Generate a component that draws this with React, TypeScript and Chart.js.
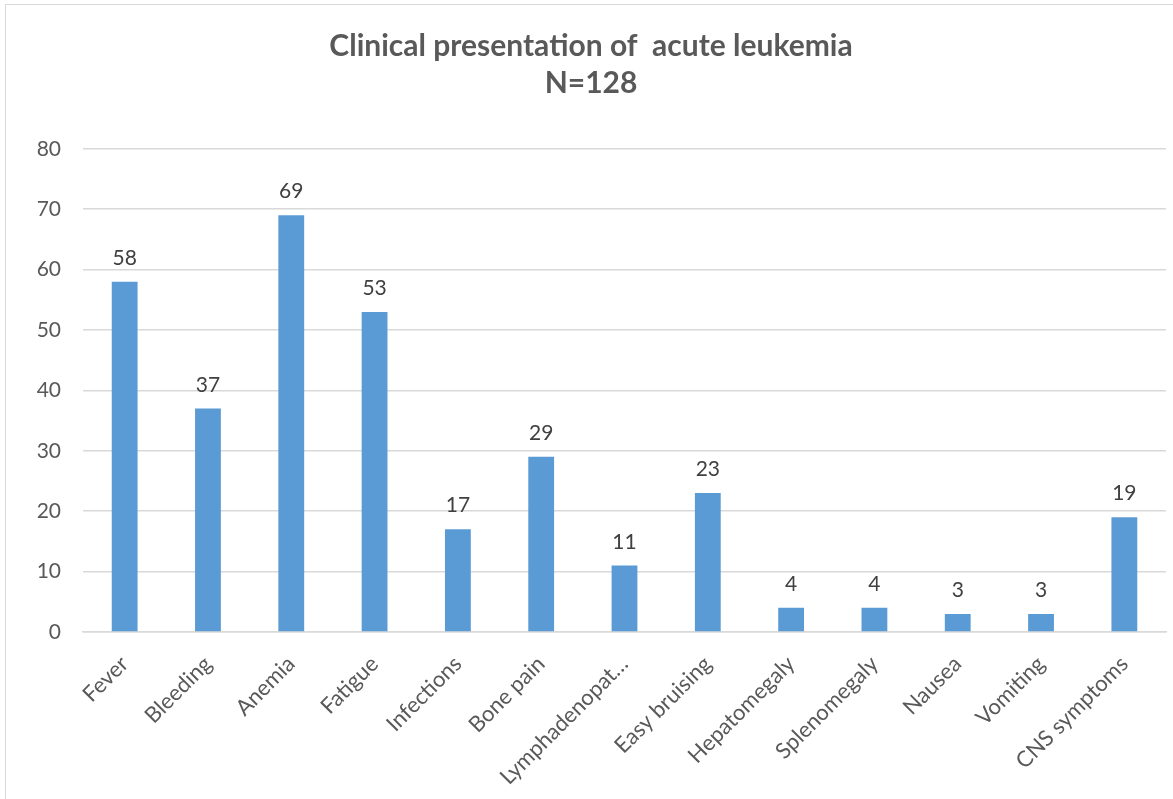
import React, { useEffect, useRef } from "react";
import { Chart, registerables } from "chart.js";

Chart.register(...registerables);

const categories = [
  "Fever",
  "Bleeding",
  "Anemia",
  "Fatigue",
  "Infections",
  "Bone pain",
  "Lymphadenopat…",
  "Easy bruising",
  "Hepatomegaly",
  "Splenomegaly",
  "Nausea",
  "Vomiting",
  "CNS symptoms",
];
const counts = [58, 37, 69, 53, 17, 29, 11, 23, 4, 4, 3, 3, 19];
const titleLines = ["Clinical presentation of  acute leukemia", "N=128"];
const yTicks = [0, 10, 20, 30, 40, 50, 60, 70, 80];

const FONT = "Lato, 'Open Sans', sans-serif";

const valueLabels = {
  id: "valueLabels",
  afterDatasetsDraw(chart: any) {
    const ctx = chart.ctx;
    const meta = chart.getDatasetMeta(0);
    ctx.save();
    ctx.font = `21px ${FONT}`;
    ctx.fillStyle = "#404040";
    ctx.textAlign = "center";
    ctx.textBaseline = "alphabetic";
    meta.data.forEach((bar: any, i: number) => {
      ctx.fillText(String(counts[i]), bar.x, bar.y - 17);
    });
    ctx.restore();
  },
};

export default function App() {
  const ref = useRef<HTMLCanvasElement | null>(null);
  useEffect(() => {
    if (!ref.current) return;
    const chart = new Chart(ref.current, {
      type: "bar",
      data: {
        labels: categories,
        datasets: [
          {
            data: counts,
            backgroundColor: "#5B9BD5",
            borderWidth: 0,
            barPercentage: 0.31,
            categoryPercentage: 1,
          },
        ],
      },
      options: {
        responsive: false,
        animation: false,
        layout: { padding: { left: 16, right: 7, top: 0, bottom: 0 } },
        plugins: {
          legend: { display: false },
          tooltip: { enabled: false },
          title: {
            display: true,
            text: titleLines,
            color: "#595959",
            font: { family: FONT, size: 30, weight: "bold", lineHeight: 1.23 },
            padding: { top: 28, bottom: 47 },
          },
        },
        scales: {
          x: {
            grid: { display: false, drawTicks: false },
            border: { display: true, color: "#D9D9D9", width: 1.5 },
            ticks: {
              color: "#595959",
              font: { family: FONT, size: 22 },
              maxRotation: 45,
              minRotation: 45,
              autoSkip: false,
              padding: 19,
            },
            afterFit(scale: any) {
              scale.height = 167;
            },
          },
          y: {
            min: 0,
            max: 80,
            afterBuildTicks(scale: any) {
              scale.ticks = yTicks.map((v) => ({ value: v }));
            },
            grid: { color: "#D9D9D9", lineWidth: 1.5, drawTicks: false },
            border: { display: false },
            ticks: {
              color: "#595959",
              font: { family: FONT, size: 21 },
              padding: 22,
            },
            afterFit(scale: any) {
              scale.width = 67;
            },
          },
        },
      },
      plugins: [valueLabels],
    });
    return () => chart.destroy();
  }, []);

  return (
    <div style={{ position: "absolute", left: 0, top: 0, width: 1173, height: 799, background: "#fff", overflow: "hidden" }}>
      <div
        style={{
          position: "absolute",
          left: 5,
          top: 4,
          width: 1200,
          height: 820,
          border: "1.5px solid #D9D9D9",
          boxSizing: "border-box",
        }}
      />
      <canvas ref={ref} width={1173} height={799} style={{ position: "absolute", left: 0, top: 0 }} />
    </div>
  );
}
